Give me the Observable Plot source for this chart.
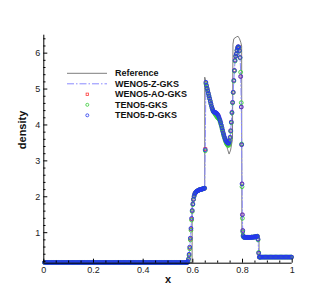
<!DOCTYPE html>
<html><head><meta charset="utf-8">
<script src="https://cdn.jsdelivr.net/npm/d3@7"></script>
<script src="https://cdn.jsdelivr.net/npm/@observablehq/plot@0.6"></script>
<style>
body{margin:0;background:#fff;}
#chart{width:332px;height:296px;}
</style>
</head><body><div id="chart"></div>
<script>
// ---- axes / ticks ----
const xDomain = [0, 1];
const yDomain = [0.15, 6.5];
const xMajor = [0, 0.2, 0.4, 0.6, 0.8, 1];
const xMinor = [0.05,0.1,0.15,0.25,0.3,0.35,0.45,0.5,0.55,0.65,0.7,0.75,0.85,0.9,0.95];
const yMajor = [1, 2, 3, 4, 5, 6];
const yMinor = [0.2,0.4,0.6,0.8,1.2,1.4,1.6,1.8,2.2,2.4,2.6,2.8,3.2,3.4,3.6,3.8,4.2,4.4,4.6,4.8,5.2,5.4,5.6,5.8,6.2,6.4];
const seriesNames = ["Reference","WENO5-Z-GKS","WENO5-AO-GKS","TENO5-GKS","TENO5-D-GKS"];

// ---- reference solution ----
const refX = [0,0.597,0.5972,0.603,0.61,0.62,0.63,0.64,0.6478,0.648,
  0.652,0.66,0.67,0.68,0.69,0.70,0.71,0.72,0.73,0.74,
  0.746,0.752,0.7595,0.7615,0.765,0.775,0.782,0.788,0.793,0.7965,
  0.7975,0.805,0.83,0.85,0.8663,0.8668,1];
const refY = [0.17,0.17,1.98,1.99,2.08,2.15,2.19,2.22,2.25,5.33,
  5.2,4.95,4.68,4.47,4.36,4.3,4.15,3.87,3.57,3.32,
  3.19,3.3,3.6,6.25,6.4,6.45,6.47,6.4,6.3,6.2,
  0.88,0.87,0.87,0.88,0.9,0.32,0.32];

// ---- numerical: flat states (cells of width 0.005) ----
const leftStateY = [
  0.17,0.17,0.17,0.17,0.17,0.17,0.17,0.17,0.17,0.17,0.17,0.17,0.17,0.17,0.17,0.17,0.17,0.17,0.17,0.17,0.17,0.17,0.17,
  0.17,0.17,0.17,0.17,0.17,0.17,0.17,0.17,0.17,0.17,0.17,0.17,0.17,0.17,0.17,0.17,0.17,0.17,0.17,0.17,0.17,0.17,0.17,
  0.17,0.17,0.17,0.17,0.17,0.17,0.17,0.17,0.17,0.17,0.17,0.17,0.17,0.17,0.17,0.17,0.17,0.17,0.17,0.17,0.17,0.17,0.17,
  0.17,0.17,0.17,0.17,0.17,0.17,0.17,0.17,0.17,0.17,0.17,0.17,0.17,0.17,0.17,0.17,0.17,0.17,0.17,0.17,0.17,0.17,0.17,
  0.17,0.17,0.17,0.17,0.17,0.17,0.17,0.17,0.17,0.17,0.17,0.17,0.17,0.17,0.17,0.17,0.17,0.17,0.17,0.17,0.17,0.17,0.17];
const leftStart = 0.0025, flatStep = 0.005;
const rightStateY = [0.32,0.32,0.32,0.32,0.32,0.32,0.32,0.32,0.32,0.32,0.32,0.32,0.32,
  0.32,0.32,0.32,0.32,0.32,0.32,0.32,0.32,0.32,0.32,0.32,0.32,0.32];
const rightStart = 0.8725;

// ---- numerical: structured region ----
const midX = [
  0.575,0.5775,0.58,0.5825,0.585,0.5875,0.59,0.5925,0.595,0.5975,
  0.6,0.6025,0.605,0.6075,0.61,0.6125,0.615,0.6175,0.62,0.6225,
  0.625,0.6275,0.63,0.6325,0.635,0.6375,0.64,0.6425,0.645,0.6475,
  0.65,0.6525,0.655,0.6575,0.66,0.6625,0.665,0.6675,0.67,0.6725,
  0.675,0.6775,0.68,0.6825,0.685,0.6875,0.69,0.6925,0.695,0.6975,
  0.7,0.7025,0.705,0.7075,0.71,0.7125,0.715,0.7175,0.72,0.7225,
  0.725,0.7275,0.73,0.7325,0.735,0.7375,0.74,0.7425,0.745,0.7475,
  0.75,0.7525,0.755,0.7575,0.76,0.7625,0.765,0.7675,0.77,0.7725,
  0.775,0.7775,0.78,0.7825,0.785,0.7875,0.79,0.7925,0.795,0.7965,
  0.798,0.7995,0.801,0.8025,0.805,0.8075,0.81,0.8125,0.815,0.8175,
  0.82,0.8225,0.825,0.8275,0.83,0.8325,0.835,0.8375,0.84,0.8425,
  0.845,0.8475,0.85,0.8525,0.855,0.8575,0.86,0.8625,0.865,0.8675,
  0.87];
const tenoD = [
  0.17,0.17,0.2,0.27,0.4,0.6,0.85,1.12,1.4,1.62,
  1.8,1.93,2.02,2.08,2.11,2.13,2.15,2.16,2.17,2.18,
  2.19,2.195,2.2,2.205,2.21,2.215,2.22,2.225,2.23,2.24,
  3.31,5.19,5.1,5.02,4.95,4.88,4.81,4.74,4.67,4.6,
  4.53,4.47,4.42,4.38,4.36,4.35,4.35,4.34,4.33,4.31,
  4.29,4.26,4.22,4.17,4.12,4.06,3.99,3.92,3.85,3.78,
  3.72,3.66,3.61,3.57,3.54,3.52,3.5,3.49,3.5,3.55,
  3.66,3.84,4.08,4.35,4.63,4.91,5.24,5.52,5.8,5.92,
  5.98,6.08,6.15,6.18,6.17,6.07,5.88,5.35,4.5,3.45,
  2.36,1.5,1.06,0.92,0.88,0.87,0.87,0.87,0.87,0.87,
  0.87,0.87,0.87,0.87,0.87,0.87,0.875,0.875,0.875,0.875,
  0.88,0.88,0.88,0.885,0.89,0.895,0.9,0.82,0.43,0.32,
  0.32];
const teno5 = [
  0.17,0.17,0.19,0.25,0.36,0.55,0.8,1.07,1.35,1.59,
  1.78,1.92,2.01,2.07,2.11,2.13,2.15,2.16,2.17,2.18,
  2.19,2.195,2.2,2.205,2.21,2.215,2.22,2.225,2.23,2.24,
  3.28,5.15,5.08,5.01,4.94,4.87,4.8,4.73,4.66,4.59,
  4.52,4.46,4.41,4.37,4.35,4.33,4.3,4.27,4.25,4.22,
  4.2,4.19,4.17,4.13,4.08,4.02,3.96,3.89,3.82,3.75,
  3.69,3.63,3.58,3.53,3.49,3.46,3.44,3.43,3.44,3.5,
  3.62,3.82,4.06,4.33,4.61,4.9,5.22,5.5,5.78,5.91,
  5.97,6.07,6.14,6.17,6.16,6.06,5.87,5.47,4.62,3.47,
  2.28,1.4,1.02,0.9,0.87,0.87,0.87,0.87,0.87,0.87,
  0.87,0.87,0.87,0.87,0.87,0.87,0.875,0.875,0.875,0.875,
  0.88,0.88,0.88,0.885,0.89,0.895,0.9,0.8,0.45,0.32,
  0.32];
const wenoAO = [
  0.17,0.17,0.19,0.26,0.38,0.58,0.83,1.1,1.38,1.61,
  1.8,1.93,2.02,2.08,2.11,2.13,2.15,2.16,2.17,2.18,
  2.19,2.195,2.2,2.205,2.21,2.215,2.22,2.225,2.23,2.24,
  3.33,5.17,5.09,5.02,4.95,4.88,4.81,4.74,4.67,4.6,
  4.53,4.47,4.42,4.38,4.36,4.35,4.34,4.33,4.32,4.3,
  4.28,4.25,4.21,4.16,4.11,4.05,3.98,3.91,3.84,3.77,
  3.71,3.65,3.6,3.56,3.52,3.5,3.48,3.47,3.48,3.53,
  3.65,3.84,4.08,4.35,4.63,4.91,5.24,5.52,5.8,5.92,
  5.98,6.08,6.15,6.18,6.17,6.07,5.88,5.35,4.5,3.45,
  2.36,1.5,1.06,0.92,0.88,0.87,0.87,0.87,0.87,0.87,
  0.87,0.87,0.87,0.87,0.87,0.87,0.875,0.875,0.875,0.875,
  0.88,0.88,0.88,0.885,0.89,0.895,0.9,0.82,0.43,0.32,
  0.32];
const wenoZ = [
  0.17,0.17,0.19,0.26,0.38,0.58,0.83,1.1,1.38,1.61,
  1.8,1.93,2.02,2.08,2.11,2.13,2.15,2.16,2.17,2.18,
  2.19,2.195,2.2,2.205,2.21,2.215,2.22,2.225,2.23,2.24,
  3.4,5.2,5.11,5.03,4.96,4.89,4.82,4.75,4.68,4.61,
  4.54,4.48,4.43,4.39,4.37,4.36,4.35,4.34,4.33,4.31,
  4.29,4.26,4.22,4.17,4.12,4.06,3.99,3.92,3.85,3.78,
  3.72,3.66,3.61,3.57,3.54,3.52,3.5,3.49,3.5,3.55,
  3.66,3.85,4.09,4.36,4.64,4.92,5.25,5.53,5.81,5.93,
  5.99,6.09,6.16,6.19,6.18,6.09,5.9,5.5,4.55,3.4,
  2.3,1.45,1.04,0.91,0.88,0.87,0.87,0.87,0.87,0.87,
  0.87,0.87,0.87,0.87,0.87,0.87,0.875,0.875,0.875,0.875,
  0.88,0.88,0.88,0.885,0.89,0.895,0.9,0.84,0.42,0.32,
  0.32];

// ---- build tables ----
const leftRows = leftStateY.map((y, i) => ({x: leftStart + flatStep * i, y}));
const rightRows = rightStateY.map((y, i) => ({x: rightStart + flatStep * i, y}));
const scheme = ys => [...leftRows, ...midX.map((x, i) => ({x, y: ys[i]})), ...rightRows];
const refRows = refX.map((x, i) => ({x, y: refY[i]}));

const colors = {ref: "#6e6e6e", z: "#8a8aff", ao: "#ff3c3c", teno: "#36cc36", tenoD: "#2437ee"};
const fmt = d => String(+d.toFixed(1));

const W = 332, H = 296;
const plot = Plot.plot({
  width: W, height: H,
  marginLeft: 43.3, marginRight: 40.3, marginTop: 34.7, marginBottom: 33.3,
  x: {domain: xDomain},
  y: {domain: yDomain},
  style: {fontFamily: "'Liberation Sans', Arial, sans-serif", fontSize: "9px", background: "#fff", color: "#222"},
  marks: [
    Plot.line(refRows, {x: "x", y: "y", stroke: colors.ref, strokeWidth: 0.9}),
    Plot.line(scheme(wenoZ), {x: "x", y: "y", stroke: colors.z, strokeWidth: 1, strokeDasharray: "7,2,1.5,2"}),
    Plot.dot(scheme(wenoAO), {x: "x", y: "y", symbol: "square", r: 1.7, stroke: colors.ao, strokeWidth: 0.8}),
    Plot.dot(scheme(teno5), {x: "x", y: "y", r: 1.9, stroke: colors.teno, strokeWidth: 0.9}),
    Plot.dot(scheme(tenoD), {x: "x", y: "y", r: 1.9, stroke: colors.tenoD, strokeWidth: 0.9}),
    Plot.ruleY([yDomain[0]], {stroke: "#000", strokeWidth: 1}),
    Plot.ruleX([xDomain[0]], {stroke: "#000", strokeWidth: 1}),
    Plot.axisX({ticks: xMajor, tickSize: -4, tickPadding: 7, tickFormat: fmt, label: null, stroke: "#000"}),
    Plot.axisX({ticks: xMinor, tickSize: -2.2, tickFormat: () => "", label: null, stroke: "#000"}),
    Plot.axisY({ticks: yMajor, tickSize: -4, tickPadding: 7.5, tickFormat: fmt, label: null, stroke: "#000"}),
    Plot.axisY({ticks: yMinor, tickSize: -2.2, tickFormat: () => "", label: null, stroke: "#000"}),
    Plot.text(["density"], {frameAnchor: "left", dx: -21.5, rotate: -90, text: d => d, fontWeight: "bold", fontSize: 11, fill: "#111", lineAnchor: "middle"}),
    Plot.text(["x"], {frameAnchor: "bottom", dy: 16.5, text: d => d, fontWeight: "bold", fontSize: 11, fill: "#111", lineAnchor: "middle"})
  ]
});
document.getElementById("chart").appendChild(plot);

// ---- legend ----
const svg = d3.select(plot);
const lg = svg.append("g").attr("font-family", "'Liberation Sans', Arial, sans-serif").attr("font-size", 9).attr("font-weight", "bold").attr("text-anchor", "start");
const lx0 = 67, lx1 = 107, mx = 87.3, tx = 115, ly0 = 73.3, ldy = 10.5;
seriesNames.forEach((name, i) => {
  const y = ly0 + i * ldy;
  if (i === 0) lg.append("line").attr("x1", lx0).attr("x2", lx1).attr("y1", y).attr("y2", y).attr("stroke", colors.ref).attr("stroke-width", 0.9);
  if (i === 1) lg.append("line").attr("x1", lx0).attr("x2", lx1).attr("y1", y).attr("y2", y).attr("stroke", colors.z).attr("stroke-width", 1).attr("stroke-dasharray", "7,2,1.5,2");
  if (i === 2) lg.append("rect").attr("x", mx - 1.2).attr("y", y - 1.2).attr("width", 2.4).attr("height", 2.4).attr("fill", "none").attr("stroke", colors.ao).attr("stroke-width", 0.8);
  if (i === 3) lg.append("circle").attr("cx", mx).attr("cy", y).attr("r", 1.5).attr("fill", "none").attr("stroke", colors.teno).attr("stroke-width", 0.8);
  if (i === 4) lg.append("circle").attr("cx", mx).attr("cy", y).attr("r", 1.5).attr("fill", "none").attr("stroke", colors.tenoD).attr("stroke-width", 0.8);
  lg.append("text").attr("x", tx).attr("y", y).attr("dy", "0.35em").attr("fill", "#111").attr("text-anchor", "start").text(name);
});
</script>
</body></html>
